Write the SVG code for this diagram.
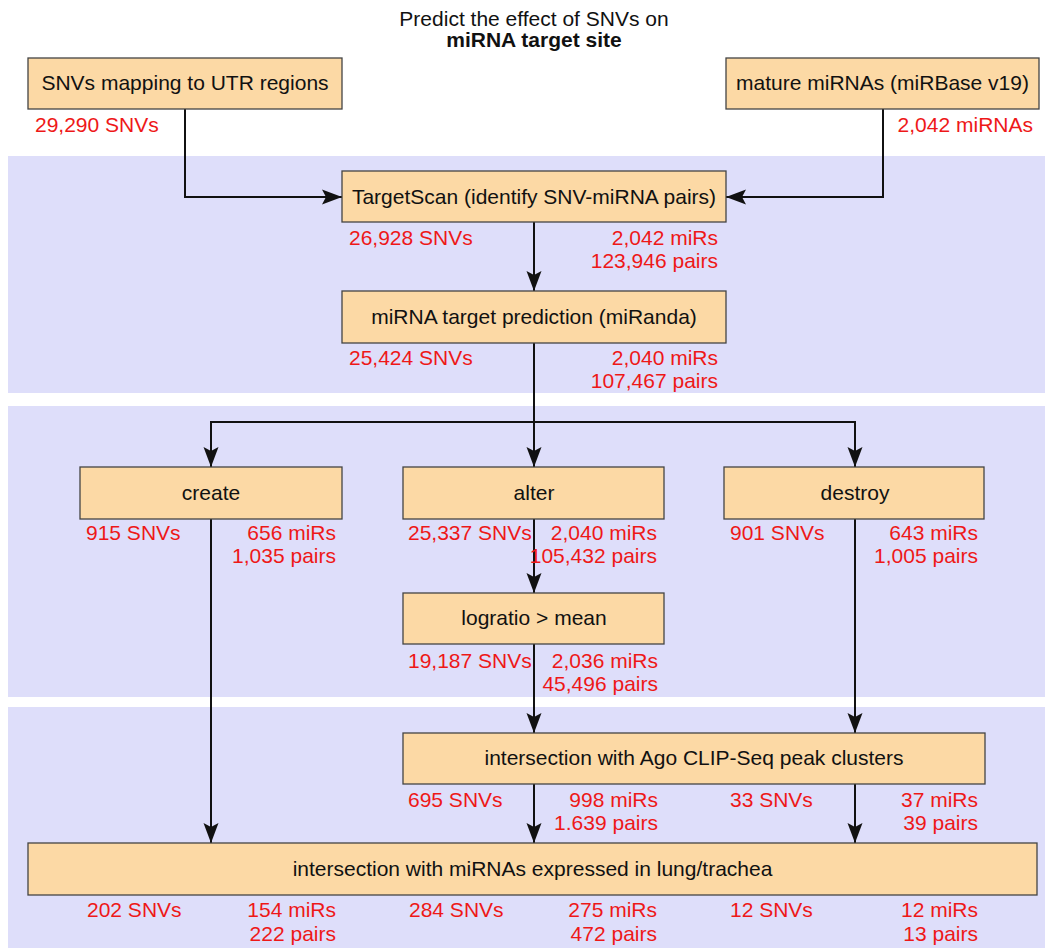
<svg xmlns="http://www.w3.org/2000/svg" width="1045" height="948" viewBox="0 0 1045 948">
<style>
text{font-family:"Liberation Sans",Arial,sans-serif;font-size:21px}
.band{fill:#dedefa}
.box{fill:#fcd9a5;stroke:#444;stroke-width:1.3}
.lbl{fill:#111;text-anchor:middle}
.num{fill:#ee1818}
.r{text-anchor:end}
.title{fill:#111;text-anchor:middle}
.conn path{fill:none;stroke:#111;stroke-width:2}
</style>
<defs>
<marker id="ah" markerUnits="userSpaceOnUse" markerWidth="22" markerHeight="18" refX="20" refY="0" viewBox="0 -9 22 18" orient="auto">
<path d="M0,-7.5 L20,0 L0,7.5 L4,0 Z" fill="#111"/>
</marker>
</defs>
<rect width="1045" height="948" fill="#fff"/>
<g id="bands">
<rect class="band" x="8" y="156" width="1037" height="237"/>
<rect class="band" x="8" y="406" width="1037" height="291"/>
<rect class="band" x="8" y="707" width="1037" height="241"/>
</g>
<g id="title">
<text class="title" x="534" y="26">Predict the effect of SNVs on</text>
<text class="title" x="534" y="47" font-weight="bold">miRNA target site</text>
</g>
<g class="conn" id="connectors">
<path d="M185,109 V197 H342" marker-end="url(#ah)"/>
<path d="M883,109 V197 H726" marker-end="url(#ah)"/>
<path d="M534,222 V291" marker-end="url(#ah)"/>
<path d="M534,343 V467" marker-end="url(#ah)"/>
<path d="M534,422 H211 V467" marker-end="url(#ah)"/>
<path d="M534,422 H855 V467" marker-end="url(#ah)"/>
<path d="M534,519 V593" marker-end="url(#ah)"/>
<path d="M534,644 V733" marker-end="url(#ah)"/>
<path d="M855,519 V733" marker-end="url(#ah)"/>
<path d="M211,519 V843" marker-end="url(#ah)"/>
<path d="M534,784 V843" marker-end="url(#ah)"/>
<path d="M855,784 V843" marker-end="url(#ah)"/>
</g>
<g id="utr">
<rect class="box" x="28" y="58" width="314" height="51"/>
<text class="lbl" x="185" y="90">SNVs mapping to UTR regions</text>
<text class="num" x="35" y="132">29,290 SNVs</text>
</g>
<g id="mature">
<rect class="box" x="726" y="58" width="313" height="51"/>
<text class="lbl" x="882.5" y="90">mature miRNAs (miRBase v19)</text>
<text class="num r" x="1033" y="132">2,042 miRNAs</text>
</g>
<g id="targetscan">
<rect class="box" x="342" y="171" width="384" height="51"/>
<text class="lbl" x="534" y="204">TargetScan (identify SNV-miRNA pairs)</text>
<text class="num" x="349" y="245">26,928 SNVs</text>
<text class="num r" x="718" y="245">2,042 miRs</text>
<text class="num r" x="718" y="268">123,946 pairs</text>
</g>
<g id="miranda">
<rect class="box" x="342" y="291" width="384" height="52"/>
<text class="lbl" x="534" y="324">miRNA target prediction (miRanda)</text>
<text class="num" x="349" y="365">25,424 SNVs</text>
<text class="num r" x="718" y="365">2,040 miRs</text>
<text class="num r" x="718" y="388">107,467 pairs</text>
</g>
<g id="create">
<rect class="box" x="80" y="467" width="262" height="52"/>
<text class="lbl" x="211" y="500">create</text>
<text class="num" x="86" y="540">915 SNVs</text>
<text class="num r" x="336" y="540">656 miRs</text>
<text class="num r" x="336" y="563">1,035 pairs</text>
</g>
<g id="alter">
<rect class="box" x="403" y="467" width="261" height="52"/>
<text class="lbl" x="534" y="500">alter</text>
<text class="num" x="408" y="540">25,337 SNVs</text>
<text class="num r" x="657" y="540">2,040 miRs</text>
<text class="num r" x="657" y="563">105,432 pairs</text>
</g>
<g id="destroy">
<rect class="box" x="724" y="467" width="260" height="52"/>
<text class="lbl" x="855" y="500">destroy</text>
<text class="num" x="730" y="540">901 SNVs</text>
<text class="num r" x="978" y="540">643 miRs</text>
<text class="num r" x="978" y="563">1,005 pairs</text>
</g>
<g id="logratio">
<rect class="box" x="403" y="593" width="261" height="51"/>
<text class="lbl" x="534" y="625">logratio &gt; mean</text>
<text class="num" x="408" y="668">19,187 SNVs</text>
<text class="num r" x="658" y="668">2,036 miRs</text>
<text class="num r" x="658" y="691">45,496 pairs</text>
</g>
<g id="ago">
<rect class="box" x="403" y="733" width="582" height="51"/>
<text class="lbl" x="694" y="765">intersection with Ago CLIP-Seq peak clusters</text>
<text class="num" x="408" y="807">695 SNVs</text>
<text class="num r" x="658" y="807">998 miRs</text>
<text class="num r" x="658" y="830">1.639 pairs</text>
<text class="num" x="730" y="807">33 SNVs</text>
<text class="num r" x="978" y="807">37 miRs</text>
<text class="num r" x="978" y="830">39 pairs</text>
</g>
<g id="lung">
<rect class="box" x="28" y="843" width="1009" height="52"/>
<text class="lbl" x="532.5" y="876">intersection with miRNAs expressed in lung/trachea</text>
<text class="num" x="87" y="917">202 SNVs</text>
<text class="num r" x="336" y="917">154 miRs</text>
<text class="num r" x="336" y="941">222 pairs</text>
<text class="num" x="409" y="917">284 SNVs</text>
<text class="num r" x="657" y="917">275 miRs</text>
<text class="num r" x="657" y="941">472 pairs</text>
<text class="num" x="730" y="917">12 SNVs</text>
<text class="num r" x="978" y="917">12 miRs</text>
<text class="num r" x="978" y="941">13 pairs</text>
</g>
</svg>
